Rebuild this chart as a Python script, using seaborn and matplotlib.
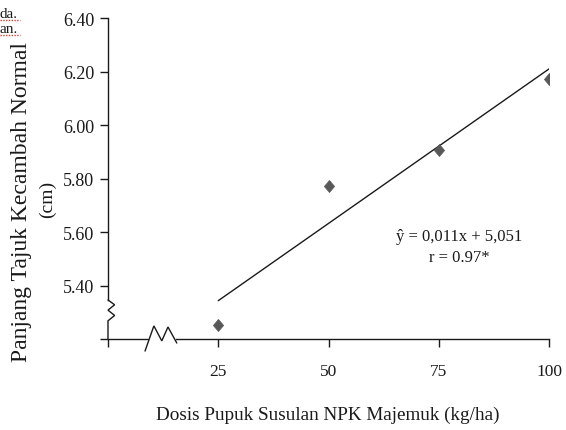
import matplotlib
matplotlib.use("Agg")
import matplotlib.pyplot as plt
import seaborn as sns
import pandas as pd
import numpy as np
from matplotlib.path import Path
from matplotlib.lines import Line2D

# Data
dose = [25, 50, 75, 100]
shoot_length = [5.254, 5.773, 5.907, 6.172]
x_ticks = [0, 25, 50, 75, 100]
x_tick_labels = ["", "25", "50", "75", "100"]
y_ticks = [5.2, 5.4, 5.6, 5.8, 6.0, 6.2, 6.4]
y_tick_labels = ["", "5.40", "5.60", "5.80", "6.00", "6.20", "6.40"]
equation = "ŷ = 0,011x + 5,051"
r_text = "r = 0.97*"
x_label = "Dosis Pupuk Susulan NPK Majemuk (kg/ha)"
y_label_1 = "Panjang Tajuk Kecambah Normal"
y_label_2 = "(cm)"

df = pd.DataFrame({"dose": dose, "length": shoot_length})

sns.set_theme(style="white")
plt.rcParams["font.family"] = ["Liberation Serif", "DejaVu Serif"]
plt.rcParams["text.color"] = "#1a1a1a"

fig = plt.figure(figsize=(5.66, 4.31), dpi=100)
ax = fig.add_axes([0.1908, 0.2111, 0.7792, 0.7448])

diamond = Path([(0, 1), (0.85, 0), (0, -1), (-0.85, 0), (0, 1)],
               [Path.MOVETO, Path.LINETO, Path.LINETO, Path.LINETO, Path.CLOSEPOLY])

sns.regplot(data=df, x="dose", y="length", ci=None, scatter=False, truncate=True,
            line_kws={"color": "#1a1a1a", "lw": 1.0}, ax=ax)
sns.scatterplot(data=df, x="dose", y="length", marker=diamond, s=75,
                color="#585858", edgecolor="#585858", linewidth=0.5, ax=ax, zorder=3)

ax.set_xlim(0, 100)
ax.set_ylim(5.2, 6.4)
ax.set_xticks(x_ticks)
ax.set_xticklabels(x_tick_labels)
ax.set_yticks(y_ticks)
ax.set_yticklabels(y_tick_labels)
ax.set_xlabel("")
ax.set_ylabel("")
ax.tick_params(axis="both", direction="out", length=6, width=1.0, color="#1a1a1a",
               labelsize=12.5, labelcolor="#1a1a1a", bottom=True, left=True)
ax.tick_params(axis="y", pad=4, labelsize=13)
ax.tick_params(axis="x", pad=11)

for s in ["top", "right"]:
    ax.spines[s].set_visible(False)
ax.spines["left"].set_color("#1a1a1a")
ax.spines["bottom"].set_color("#1a1a1a")
ax.spines["left"].set_linewidth(1.0)
ax.spines["bottom"].set_linewidth(1.0)
ax.spines["left"].set_bounds(5.346, 6.4)
ax.spines["bottom"].set_bounds(15.4, 100)

# axis break marks
kw = dict(color="#1a1a1a", lw=1.0, clip_on=False, solid_joinstyle="miter")
ax.plot([0, 0, 1.5, 0, 1.5, 0, 0], [5.2, 5.268, 5.288, 5.308, 5.328, 5.346, 5.346], **kw)
ax.plot([0, 9.0], [5.2, 5.2], **kw)
ax.plot([8.4, 10.4, 12.2, 13.6, 15.6], [5.155, 5.249, 5.193, 5.245, 5.185], **kw)

ax.text(79.6, 5.585, equation, ha="center", va="center", fontsize=12)
ax.text(79.6, 5.507, r_text, ha="center", va="center", fontsize=12)

fig.text(0.5795, 1 - 415 / 431, x_label, ha="center", va="center", fontsize=13.8)
fig.text(22 / 566, 1 - 362 / 431, y_label_1, rotation=90, ha="center", va="bottom", fontsize=17)
fig.text(47 / 566, 1 - 199 / 431, y_label_2, rotation=90, ha="center", va="center", fontsize=14)

# fragments of surrounding document text at top-left
fig.text(0.0, 1 - 18 / 431, "da.", ha="left", va="baseline", fontsize=11)
fig.text(0.0, 1 - 33 / 431, "an.", ha="left", va="baseline", fontsize=11)
for yy in (21, 36):
    fig.add_artist(Line2D([0, 20 / 566], [1 - yy / 431] * 2, color="#d83a3a",
                          lw=1.0, ls=(0, (1, 1))))

fig.savefig("out.png", dpi=100)
